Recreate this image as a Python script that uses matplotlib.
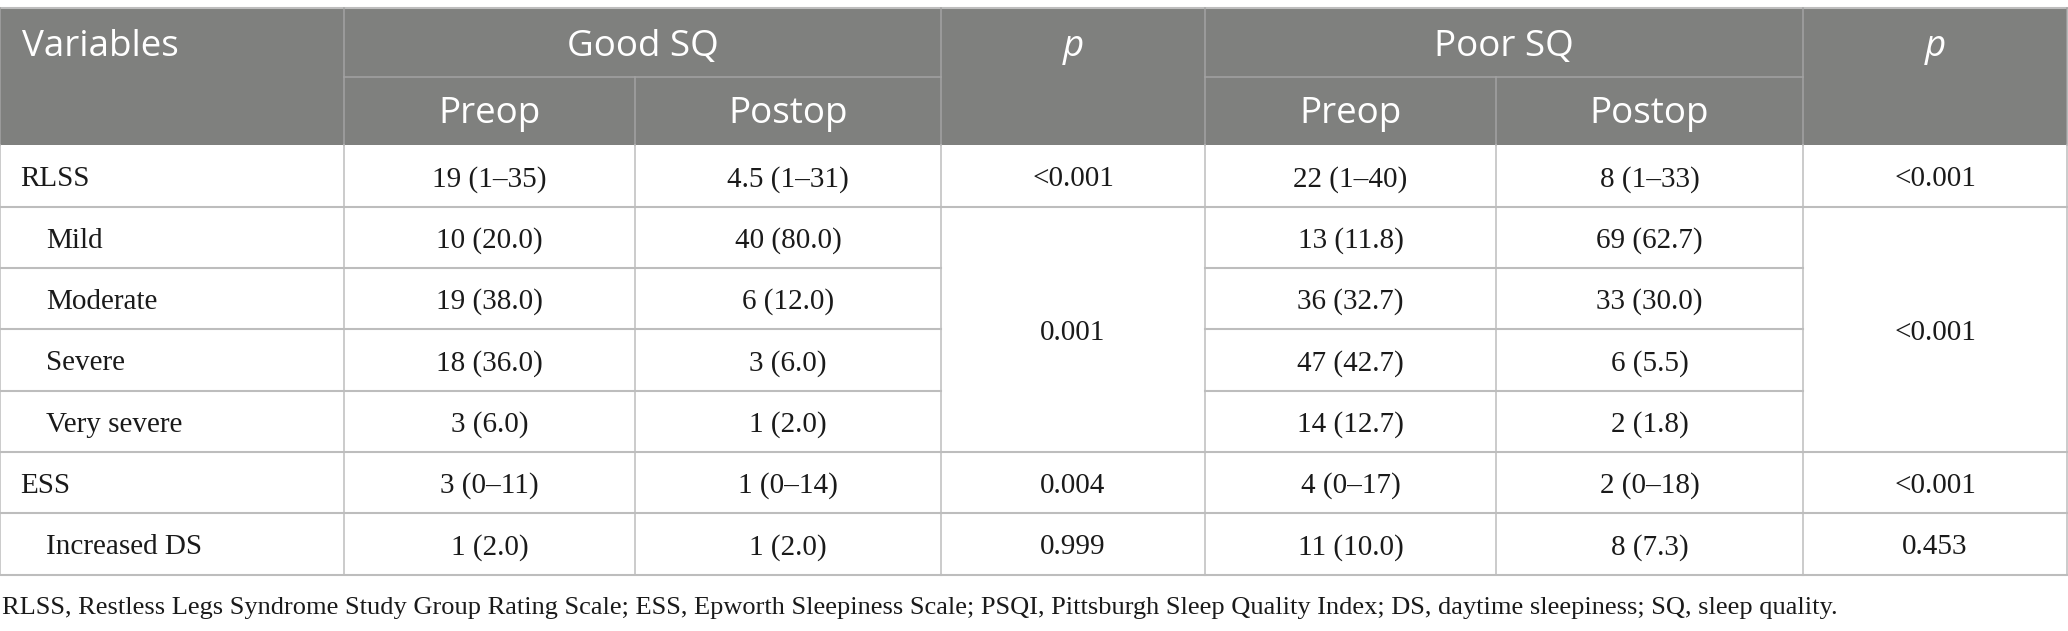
import matplotlib.pyplot as plt

# Table content
row_labels = ["RLSS", "Mild", "Moderate", "Severe", "Very severe", "ESS", "Increased DS"]
row_indent = [False, True, True, True, True, False, True]
good_pre = ["19 (1–35)", "10 (20.0)", "19 (38.0)", "18 (36.0)", "3 (6.0)", "3 (0–11)", "1 (2.0)"]
good_post = ["4.5 (1–31)", "40 (80.0)", "6 (12.0)", "3 (6.0)", "1 (2.0)", "1 (0–14)", "1 (2.0)"]
good_p = ["<0.001", "0.001", "0.004", "0.999"]
poor_pre = ["22 (1–40)", "13 (11.8)", "36 (32.7)", "47 (42.7)", "14 (12.7)", "4 (0–17)", "11 (10.0)"]
poor_post = ["8 (1–33)", "69 (62.7)", "33 (30.0)", "6 (5.5)", "2 (1.8)", "2 (0–18)", "8 (7.3)"]
poor_p = ["<0.001", "<0.001", "<0.001", "0.453"]
p_spans = [(0, 1), (1, 5), (5, 6), (6, 7)]  # row ranges covered by each p value
group_names = ["Good SQ", "Poor SQ"]
sub_names = ["Preop", "Postop"]
footnote = ("RLSS, Restless Legs Syndrome Study Group Rating Scale; ESS, Epworth Sleepiness Scale; "
            "PSQI, Pittsburgh Sleep Quality Index; DS, daytime sleepiness; SQ, sleep quality.")

# layout (pixels)
W, H = 2068, 631
col_x = [0, 344, 635, 941, 1205, 1496, 1803, 2067]
head_y = [8, 77, 145]
row_y = [145, 207, 268, 329, 391, 452, 513, 575]

HEAD_BG = "#7f807e"
HEAD_LINE = "#a3a3a3"
GRID = "#bdbdbd"
TXT = "#1a1a1a"
HEAD_FONT = "Open Sans"
BODY_FONT = "Liberation Serif"

fig = plt.figure(figsize=(W / 100, H / 100), dpi=100)
ax = fig.add_axes([0, 0, 1, 1])
ax.set_xlim(0, W)
ax.set_ylim(H, 0)
ax.axis("off")

# header background
ax.add_patch(plt.Rectangle((col_x[0], head_y[0]), col_x[-1] - col_x[0], head_y[2] - head_y[0],
                           facecolor=HEAD_BG, edgecolor="none"))
ax.plot([col_x[0], col_x[-1]], [head_y[0], head_y[0]], color=GRID, lw=1.5)
# header inner lines (sub-column splits only in the lower header row)
for i, x in enumerate(col_x):
    y0 = head_y[1] if i in (2, 5) else head_y[0]
    ax.plot([x, x], [y0, head_y[2]], color=HEAD_LINE, lw=1.1)
for a, b in [(1, 3), (4, 6)]:
    ax.plot([col_x[a], col_x[b]], [head_y[1], head_y[1]], color=HEAD_LINE, lw=1.1)

hs = 26.5
top_base = 56
bot_base = 123
ax.text(col_x[0] + 22, top_base, "Variables", color="white", fontsize=hs, family=HEAD_FONT,
        ha="left", va="baseline")
for gi, (a, b, pc) in enumerate([(1, 3, 3), (4, 6, 6)]):
    ax.text((col_x[a] + col_x[b]) / 2, top_base, group_names[gi], color="white", fontsize=hs,
            family=HEAD_FONT, ha="center", va="baseline")
    for si in range(2):
        ax.text((col_x[a + si] + col_x[a + si + 1]) / 2, bot_base, sub_names[si], color="white",
                fontsize=hs, family=HEAD_FONT, ha="center", va="baseline")
    ax.text((col_x[pc] + col_x[pc + 1]) / 2, top_base, "p", color="white", fontsize=hs,
            family=HEAD_FONT, style="italic", ha="center", va="baseline")

# body grid
for x in col_x:
    ax.plot([x, x], [row_y[0], row_y[-1]], color=GRID, lw=1.1)
pcols = [3, 6]
ends = [s[1] for s in p_spans]
for i, y in enumerate(row_y[1:], start=1):
    ax.plot([col_x[0], col_x[3]], [y, y], color=GRID, lw=1.5)
    ax.plot([col_x[4], col_x[6]], [y, y], color=GRID, lw=1.5)
    if i in ends:
        for c in pcols:
            ax.plot([col_x[c], col_x[c + 1]], [y, y], color=GRID, lw=1.5)

bs = 21
boff = 10.5  # baseline below row centre
for r, lab in enumerate(row_labels):
    yb = (row_y[r] + row_y[r + 1]) / 2 + boff
    ax.text(col_x[0] + (46 if row_indent[r] else 20), yb, lab, fontsize=bs, family=BODY_FONT,
            ha="left", va="baseline", color=TXT)
    for c, vals in [(1, good_pre), (2, good_post), (4, poor_pre), (5, poor_post)]:
        ax.text((col_x[c] + col_x[c + 1]) / 2, yb, vals[r], fontsize=bs, family=BODY_FONT,
                ha="center", va="baseline", color=TXT)
for k, (a, b) in enumerate(p_spans):
    yb = (row_y[a] + row_y[b]) / 2 + boff
    for c, vals in [(3, good_p), (6, poor_p)]:
        ax.text((col_x[c] + col_x[c + 1]) / 2, yb, vals[k], fontsize=bs, family=BODY_FONT,
                ha="center", va="baseline", color=TXT)

ax.text(2, 614, footnote, fontsize=19, family=BODY_FONT, ha="left", va="baseline", color=TXT)

fig.savefig("out.png", dpi=100)
